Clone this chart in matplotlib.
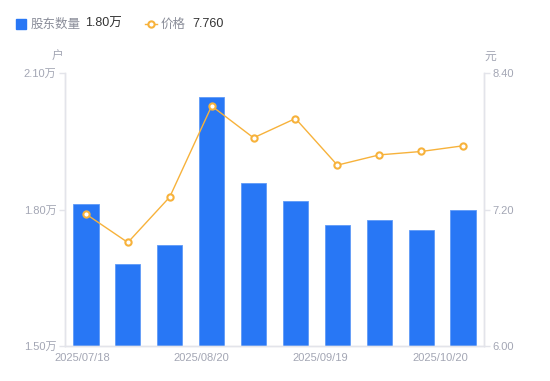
import numpy as np
import matplotlib
matplotlib.use("Agg")
import matplotlib.pyplot as plt
from matplotlib.lines import Line2D

plt.rcParams['font.family'] = ['Liberation Sans', 'Noto Sans CJK SC', 'DejaVu Sans']

# data
holders = [1.811, 1.681, 1.721, 2.048, 1.859, 1.818, 1.767, 1.776, 1.756, 1.800]  # 万户
price = [7.16, 6.91, 7.31, 8.11, 7.83, 8.00, 7.59, 7.68, 7.71, 7.76]  # 元
date_labels = ["2025/07/18", "2025/08/20", "2025/09/19", "2025/10/20"]
left_ticks = [1.50, 1.80, 2.10]
right_ticks = [6.00, 7.20, 8.40]

BLUE = "#2877f5"
ORANGE = "#f7b23b"
GRAY = "#a3a6b4"
AXIS = "#e3e4ea"
CJK = ['Noto Sans CJK SC', 'DejaVu Sans']

W, H = 550, 381
fig = plt.figure(figsize=(W / 100, H / 100), dpi=100)
ax = fig.add_axes([65 / W, 35 / H, 419 / W, 273 / H])
ax2 = ax.twinx()

x = np.arange(len(holders))
ax.bar(x, holders, width=0.6, color=BLUE, edgecolor="#5f9af7", linewidth=0.6, zorder=2)
ax.set_xlim(-0.5, len(holders) - 0.5)
ax.set_ylim(left_ticks[0], left_ticks[-1])
ax.set_yticks(left_ticks)
ax.set_yticklabels([f"{v:.2f}万" for v in left_ticks])

ax2.plot(x, price, color=ORANGE, linewidth=1, marker="o", markersize=4.5,
         markerfacecolor="white", markeredgecolor=ORANGE, markeredgewidth=1.5, zorder=3)
ax2.set_ylim(right_ticks[0], right_ticks[-1])
ax2.set_yticks(right_ticks)
ax2.set_yticklabels([f"{v:.2f}" for v in right_ticks])

# date labels sit slightly left of the bars, spread over the axis
ax.set_xticks(np.linspace(-0.09, 8.45, len(date_labels)))
ax.set_xticklabels(date_labels)

for a in (ax, ax2):
    for s in a.spines.values():
        s.set_color(AXIS)
        s.set_linewidth(1)
    a.spines["top"].set_visible(False)
    a.tick_params(colors=GRAY, labelsize=8, length=4, width=1, color=AXIS, pad=2)
ax.tick_params(axis="x", length=0, pad=5)
ax2.set_zorder(ax.get_zorder() + 1)
ax2.patch.set_visible(False)

# unit labels
fig.text(58 / W, 1 - 56 / H, "户", color=GRAY, fontsize=8.5, ha="center", va="center", family=CJK)
fig.text(490 / W, 1 - 56 / H, "元", color=GRAY, fontsize=8.5, ha="center", va="center", family=CJK)

# legend row
ly = 1 - 24 / H
fig.add_artist(Line2D([21 / W], [ly], marker="s", markersize=7, color=BLUE,
                      linestyle="none", transform=fig.transFigure))
fig.text(31 / W, ly, "股东数量", color="#8a8d99", fontsize=9, va="center", family=CJK)
fig.text(85 / W, ly, f"{holders[-1]:.2f}万", color="#333333", fontsize=9, va="center")
fig.add_artist(Line2D([145 / W, 157 / W], [ly, ly], color=ORANGE, linewidth=1,
                      transform=fig.transFigure))
fig.add_artist(Line2D([151 / W], [ly], marker="o", markersize=4.5, markerfacecolor="white",
                      markeredgecolor=ORANGE, markeredgewidth=1.5, linestyle="none",
                      transform=fig.transFigure))
fig.text(161 / W, ly, "价格", color="#8a8d99", fontsize=9, va="center", family=CJK)
fig.text(192 / W, ly, f"{price[-1]:.3f}", color="#333333", fontsize=9, va="center")

fig.savefig("out.png", dpi=100)
